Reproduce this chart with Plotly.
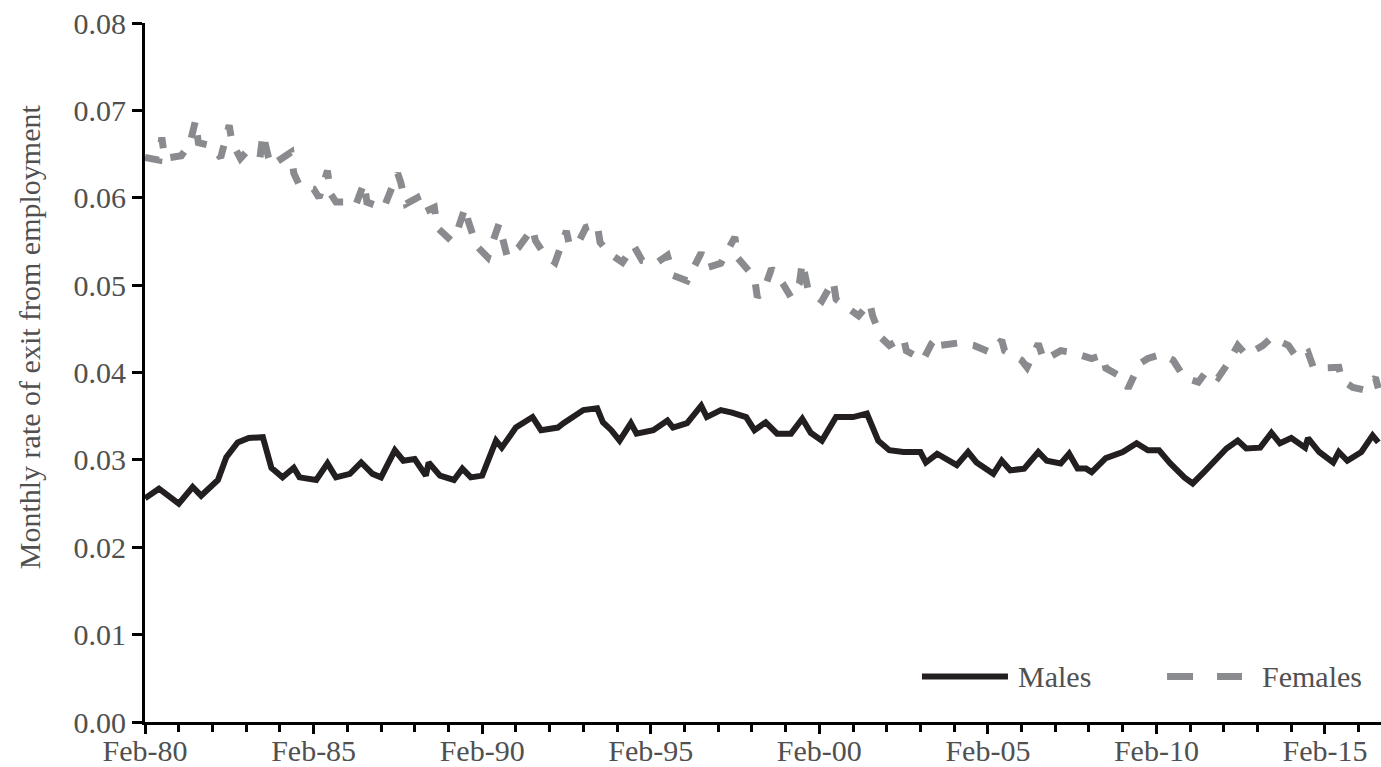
import plotly.graph_objects as go

# ---- data ----
male_dates = ["1980-02", "1980-07", "1981-02", "1981-07", "1981-10", "1982-04", "1982-07", "1982-11",
              "1983-03", "1983-08", "1983-11", "1984-03", "1984-07", "1984-09", "1985-03", "1985-07",
              "1985-10", "1986-03", "1986-07", "1986-11", "1987-02", "1987-07", "1987-10", "1988-02",
              "1988-06", "1988-07", "1988-11", "1989-04", "1989-07", "1989-10", "1990-02", "1990-07",
              "1990-09", "1991-02", "1991-08", "1991-11", "1992-05", "1992-07", "1993-02", "1993-07",
              "1993-09", "1993-12", "1994-03", "1994-07", "1994-09", "1995-03", "1995-08", "1995-10",
              "1996-03", "1996-08", "1996-10", "1997-03", "1997-07", "1997-12", "1998-03", "1998-07",
              "1998-11", "1999-04", "1999-08", "1999-11", "2000-03", "2000-08", "2001-02", "2001-07",
              "2001-11", "2002-03", "2002-08", "2003-02", "2003-04", "2003-08", "2004-03", "2004-07",
              "2004-10", "2005-04", "2005-07", "2005-10", "2006-03", "2006-08", "2006-11", "2007-04",
              "2007-07", "2007-10", "2008-01", "2008-03", "2008-08", "2009-02", "2009-07", "2009-11",
              "2010-03", "2010-07", "2010-12", "2011-03", "2011-07", "2011-10", "2012-03", "2012-07",
              "2012-10", "2013-03", "2013-07", "2013-10", "2014-02", "2014-07", "2014-08", "2014-12",
              "2015-05", "2015-07", "2015-10", "2016-03", "2016-07", "2016-09"]
male_rate = [0.0256, 0.0267, 0.0250, 0.0269, 0.0259, 0.0277, 0.0303, 0.0320,
             0.0325, 0.0326, 0.0291, 0.0280, 0.0291, 0.0280, 0.0277, 0.0296,
             0.0280, 0.0284, 0.0297, 0.0284, 0.0280, 0.0311, 0.0299, 0.0301,
             0.0282, 0.0297, 0.0282, 0.0277, 0.0290, 0.0280, 0.0282, 0.0322,
             0.0314, 0.0337, 0.0349, 0.0334, 0.0337, 0.0342, 0.0357, 0.0359,
             0.0343, 0.0334, 0.0322, 0.0342, 0.0330, 0.0334, 0.0345, 0.0337,
             0.0342, 0.0362, 0.0349, 0.0357, 0.0354, 0.0349, 0.0334, 0.0343,
             0.0330, 0.0330, 0.0347, 0.0331, 0.0322, 0.0349, 0.0349, 0.0353,
             0.0322, 0.0311, 0.0309, 0.0309, 0.0297, 0.0307, 0.0294, 0.0309,
             0.0297, 0.0284, 0.0299, 0.0288, 0.0290, 0.0309, 0.0299, 0.0296,
             0.0307, 0.0290, 0.0290, 0.0286, 0.0302, 0.0309, 0.0319, 0.0311,
             0.0311, 0.0296, 0.0280, 0.0273, 0.0286, 0.0296, 0.0313, 0.0322,
             0.0313, 0.0314, 0.0331, 0.0319, 0.0325, 0.0314, 0.0325, 0.0309,
             0.0297, 0.0309, 0.0299, 0.0309, 0.0328, 0.0320]

female_dates = ["1980-02", "1980-07", "1980-08", "1980-09", "1981-03", "1981-06", "1981-08", "1981-09",
                "1982-01", "1982-05", "1982-08", "1982-09", "1982-12", "1983-02", "1983-07", "1983-08",
                "1983-10", "1983-11", "1984-06", "1984-07", "1984-09", "1985-02", "1985-04", "1985-07",
                "1985-08", "1985-10", "1986-02", "1986-05", "1986-08", "1986-09", "1987-03", "1987-08",
                "1987-09", "1987-11", "1988-03", "1988-05", "1988-09", "1988-10", "1989-03", "1989-05",
                "1989-08", "1989-09", "1989-12", "1990-04", "1990-08", "1990-09", "1990-11", "1991-03",
                "1991-08", "1991-09", "1991-12", "1992-04", "1992-08", "1992-09", "1992-12", "1993-03",
                "1993-07", "1993-08", "1993-11", "1994-04", "1994-08", "1994-11", "1995-04", "1995-08",
                "1995-10", "1996-03", "1996-08", "1996-10", "1997-03", "1997-08", "1997-09", "1998-03",
                "1998-04", "1998-07", "1998-09", "1999-01", "1999-04", "1999-07", "1999-08", "1999-10",
                "2000-03", "2000-07", "2000-08", "2000-12", "2001-04", "2001-08", "2001-09", "2001-12",
                "2002-03", "2002-08", "2002-09", "2003-03", "2003-06", "2003-08", "2003-09", "2004-04",
                "2004-09", "2005-03", "2005-07", "2005-08", "2006-02", "2006-04", "2006-08", "2006-10",
                "2007-04", "2007-08", "2008-03", "2008-07", "2008-08", "2009-02", "2009-04", "2009-08",
                "2009-11", "2010-04", "2010-08", "2010-12", "2011-05", "2011-08", "2011-12", "2012-03",
                "2012-07", "2012-10", "2013-04", "2013-07", "2014-01", "2014-04", "2014-08", "2014-10",
                "2015-07", "2015-08", "2015-12", "2016-04", "2016-08", "2016-09"]
female_rate = [0.0646, 0.0643, 0.0669, 0.0645, 0.0648, 0.0662, 0.0688, 0.0663,
               0.0660, 0.0646, 0.0683, 0.0663, 0.0645, 0.0652, 0.0646, 0.0673,
               0.0646, 0.0637, 0.0652, 0.0628, 0.0614, 0.0610, 0.0600, 0.0631,
               0.0605, 0.0595, 0.0595, 0.0591, 0.0617, 0.0595, 0.0588, 0.0628,
               0.0618, 0.0593, 0.0600, 0.0583, 0.0589, 0.0566, 0.0551, 0.0560,
               0.0589, 0.0574, 0.0545, 0.0532, 0.0570, 0.0557, 0.0532, 0.0543,
               0.0565, 0.0551, 0.0536, 0.0526, 0.0562, 0.0547, 0.0547, 0.0566,
               0.0570, 0.0549, 0.0537, 0.0526, 0.0545, 0.0528, 0.0525, 0.0534,
               0.0511, 0.0505, 0.0537, 0.0520, 0.0525, 0.0555, 0.0531, 0.0509,
               0.0486, 0.0500, 0.0519, 0.0502, 0.0486, 0.0502, 0.0526, 0.0496,
               0.0482, 0.0505, 0.0484, 0.0474, 0.0465, 0.0480, 0.0465, 0.0440,
               0.0431, 0.0440, 0.0425, 0.0414, 0.0433, 0.0440, 0.0431, 0.0434,
               0.0431, 0.0423, 0.0437, 0.0425, 0.0414, 0.0406, 0.0433, 0.0414,
               0.0425, 0.0423, 0.0416, 0.0420, 0.0405, 0.0394, 0.0382, 0.0410,
               0.0416, 0.0421, 0.0414, 0.0394, 0.0389, 0.0402, 0.0394, 0.0408,
               0.0431, 0.0420, 0.0431, 0.0440, 0.0431, 0.0417, 0.0423, 0.0405,
               0.0406, 0.0391, 0.0383, 0.0380, 0.0394, 0.0382]

y_tick_values = [0.00, 0.01, 0.02, 0.03, 0.04, 0.05, 0.06, 0.07, 0.08]
series_names = ["Males", "Females"]
y_title = "Monthly rate of exit from employment"

FONT = "Liberation Serif"
TEXT = "#505050"
MALE_COLOR = "#231f20"
FEMALE_COLOR = "#8a8b8e"

fig = go.Figure()
fig.add_trace(go.Scatter(x=male_dates, y=male_rate, mode="lines", name=series_names[0],
                         line=dict(color=MALE_COLOR, width=6), showlegend=False))
fig.add_trace(go.Scatter(x=female_dates, y=female_rate, mode="lines", name=series_names[1],
                         line=dict(color=FEMALE_COLOR, width=7, dash="16px,16px"),
                         showlegend=False))

# legend drawn as key samples + labels (paper coordinates)
legend_y = 0.065
fig.add_shape(type="line", xref="paper", yref="paper", x0=0.6286, x1=0.6982,
              y0=legend_y, y1=legend_y, line=dict(color=MALE_COLOR, width=6))
fig.add_shape(type="line", xref="paper", yref="paper", x0=0.8269, x1=0.8875,
              y0=legend_y, y1=legend_y, line=dict(color=FEMALE_COLOR, width=7, dash="26px,24px"))
fig.add_annotation(xref="paper", yref="paper", x=0.7047, y=legend_y, xanchor="left",
                   yanchor="middle", text=series_names[0], showarrow=False,
                   font=dict(family=FONT, size=30, color=TEXT))
fig.add_annotation(xref="paper", yref="paper", x=0.9021, y=legend_y, xanchor="left",
                   yanchor="middle", text=series_names[1], showarrow=False,
                   font=dict(family=FONT, size=30, color=TEXT))
# y-axis title (sits above the plot's vertical centre in the reference)
fig.add_annotation(xref="paper", yref="paper", x=-0.0939, y=0.5518, xanchor="center",
                   yanchor="middle", textangle=-90, text=y_title, showarrow=False,
                   font=dict(family=FONT, size=30, color=TEXT))

fig.update_layout(
    width=1381, height=767,
    margin=dict(l=145, r=0, t=23, b=45, autoexpand=False),
    paper_bgcolor="white", plot_bgcolor="white",
    font=dict(family=FONT, size=30, color=TEXT),
    showlegend=False,
)
fig.update_xaxes(
    type="date", range=["1980-02-01", "2016-09-30"],
    tick0="1980-02-01", dtick="M60", tickformat="%b-%y",
    showline=True, linecolor="black", linewidth=3,
    ticks="outside", ticklen=9, tickwidth=3, tickcolor="black",
    ticklabelstandoff=-9,
    minor=dict(dtick="M12", tick0="1980-02-01", ticks="outside", ticklen=7,
               tickwidth=3, tickcolor="black", showgrid=False),
    showgrid=False, zeroline=False,
    tickfont=dict(family=FONT, size=30, color=TEXT),
)
fig.update_yaxes(
    range=[0, 0.08], tickvals=y_tick_values, tickformat=".2f",
    showline=True, linecolor="black", linewidth=3,
    ticks="outside", ticklen=10, tickwidth=3, tickcolor="black",
    showgrid=False, zeroline=False,
    tickfont=dict(family=FONT, size=30, color=TEXT),
)

fig.write_html("out.html")
